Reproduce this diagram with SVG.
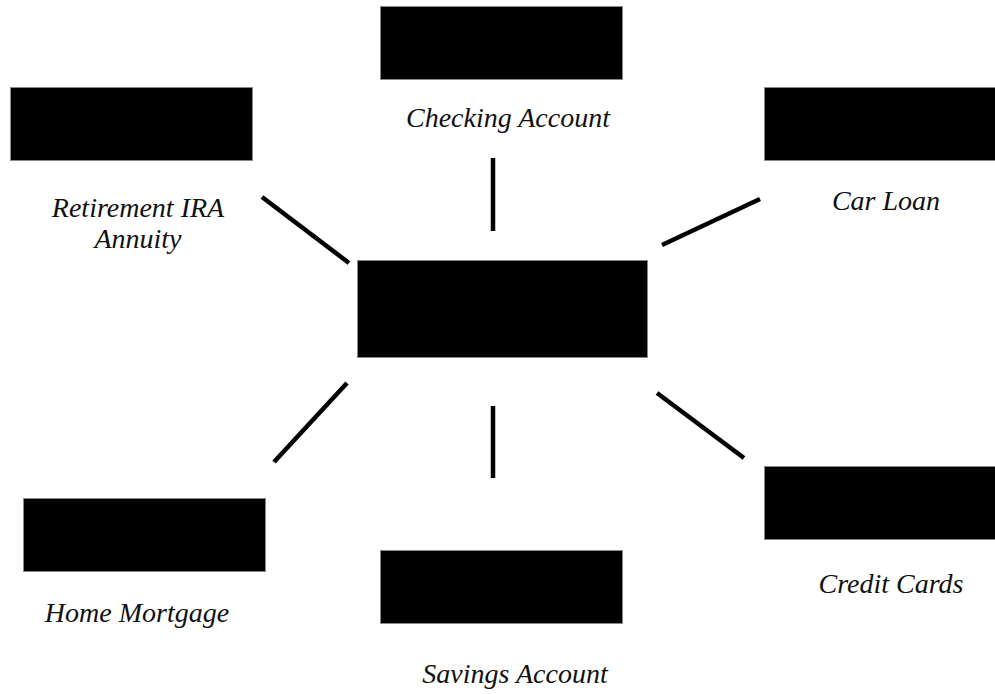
<svg xmlns="http://www.w3.org/2000/svg" width="995" height="694" viewBox="0 0 995 694">
<style>
.box{fill:#000;stroke:#888;stroke-width:1}
.lbl{font-family:"Liberation Serif","Times New Roman",serif;font-style:italic;font-size:28px;fill:#111;text-anchor:middle}
.conn line{stroke:#000;stroke-width:4.5;stroke-linecap:butt}
</style>
<rect width="995" height="694" fill="#fff"/>
<g id="center"><rect class="box" x="357.500" y="260.500" width="290" height="97"/></g>
<g id="checking"><rect class="box" x="380.500" y="6.500" width="242" height="73"/><text class="lbl" x="508" y="127">Checking Account</text></g>
<g id="retirement"><rect class="box" x="10.500" y="87.500" width="242" height="73"/><text class="lbl" x="138" y="217">Retirement IRA</text><text class="lbl" x="138" y="248">Annuity</text></g>
<g id="carloan"><rect class="box" x="764.500" y="87.500" width="240" height="73"/><text class="lbl" x="886" y="210">Car Loan</text></g>
<g id="mortgage"><rect class="box" x="23.500" y="498.500" width="242" height="73"/><text class="lbl" x="137" y="622">Home Mortgage</text></g>
<g id="savings"><rect class="box" x="380.500" y="550.500" width="242" height="73"/><text class="lbl" x="515" y="683">Savings Account</text></g>
<g id="credit"><rect class="box" x="764.500" y="466.500" width="240" height="73"/><text class="lbl" x="891" y="593">Credit Cards</text></g>
<g id="connectors" class="conn">
<line x1="493" y1="158" x2="493" y2="231"/>
<line x1="262" y1="197" x2="349" y2="263"/>
<line x1="662" y1="245" x2="760" y2="199"/>
<line x1="347" y1="383" x2="274" y2="462"/>
<line x1="493" y1="406" x2="493" y2="478"/>
<line x1="657" y1="393" x2="744" y2="458"/>
</g>
</svg>
